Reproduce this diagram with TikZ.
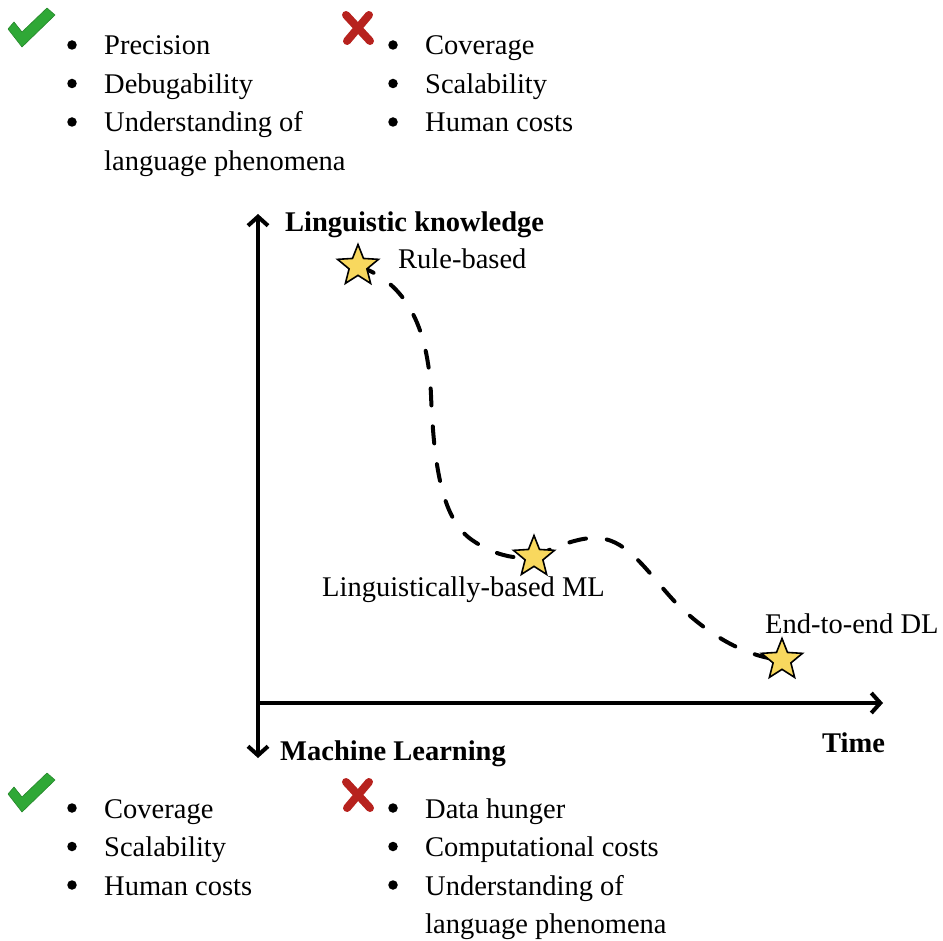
\documentclass[tikz,border=0pt]{standalone}
\usepackage{fontspec}
\setmainfont{Liberation Serif}
\usetikzlibrary{arrows.meta,shapes.geometric}
\definecolor{staryellow}{HTML}{F8D85E}
\definecolor{okgreen}{HTML}{2FA836}
\definecolor{badred}{HTML}{B7221E}
\begin{document}
\begin{tikzpicture}[x=1pt,y=-1pt,
  txt/.style={anchor=base west, inner sep=0pt, font=\fontsize{28.5}{34}\selectfont},
  btxt/.style={anchor=base west, inner sep=0pt, font=\fontsize{28.5}{34}\selectfont\bfseries},
  dot/.style={circle, fill=black, inner sep=0pt, minimum size=9.5pt},
  starnode/.style={star, star points=5, star point ratio=2.3, minimum size=43pt, inner sep=0pt, draw=black, line width=1.6pt, fill=staryellow},
  axisline/.style={line width=4pt, line cap=round},
  barb/.tip={Straight Barb[length=9pt,width=20pt,line width=4pt]},
  trend/.style={line width=4pt, line cap=round, dash pattern=on 17pt off 21pt},
  checkmark/.style={fill=okgreen, draw=okgreen!80!black, line width=0.6pt, line join=round},
  crossmark/.style={draw=badred, line width=8pt, line cap=round}
]
\useasboundingbox (0,0) rectangle (943,941);

% ---- top marks ----
\fill[checkmark] (8,29) -- (14,22) -- (22,32) -- (47,8) -- (55,15) -- (22,47) -- cycle;
\draw[crossmark] (346,15) -- (370,41);
\draw[crossmark] (369,15) -- (347,41);

% ---- top-left list ----
\node[dot] (tlb1) at (72,45) {};
\node[txt] (tl1) at (104,55) {Precision};
\node[dot] (tlb2) at (72,83.5) {};
\node[txt] (tl2) at (104,93.5) {Debugability};
\node[dot] (tlb3) at (72,122) {};
\node[txt] (tl3) at (104,132) {Understanding of};
\node[txt] (tl4) at (104,170.5) {language phenomena};

% ---- top-right list ----
\node[dot] (trb1) at (393,45) {};
\node[txt] (tr1) at (425,55) {Coverage};
\node[dot] (trb2) at (393,83.5) {};
\node[txt] (tr2) at (425,93.5) {Scalability};
\node[dot] (trb3) at (393,122) {};
\node[txt] (tr3) at (425,132) {Human costs};

% ---- axes ----
\coordinate (ytop) at (258,214);
\coordinate (ybot) at (258,758);
\coordinate (orig) at (258,703);
\coordinate (xend) at (883,703);
\draw[axisline, barb-barb] (ybot) -- (ytop);
\draw[axisline, -barb] (orig) -- (xend);

\node[btxt] (lk) at (285,232) {Linguistic knowledge};
\node[btxt] (mlax) at (280,760) {Machine Learning};
\node[btxt] (time) at (822,752) {Time};

% ---- stars & trend ----
\coordinate (rbc) at (358,266);
\coordinate (mlc) at (534,557);
\coordinate (e2ec) at (782,660);
\draw[trend] (rbc) .. controls (405,282) and (428,325) .. (431,395)
  .. controls (434,470) and (443,520) .. (472,540)
  .. controls (492,554) and (514,560) .. (mlc)
  .. controls (565,542) and (588,535) .. (605,539)
  .. controls (632,545) and (652,578) .. (677,604)
  .. controls (712,638) and (748,657) .. (e2ec);
\node[starnode] (rb) at (rbc) {};
\node[starnode] (ml) at (mlc) {};
\node[starnode] (e2e) at (e2ec) {};

\node[txt] (rbl) at (398,269) {Rule-based};
\node[txt] (mll) at (322,596) {Linguistically-based ML};
\node[txt] (e2el) at (765,633) {End-to-end DL};

% ---- bottom marks ----
\fill[checkmark] (8,794) -- (14,787) -- (22,797) -- (47,773) -- (55,780) -- (22,812) -- cycle;
\draw[crossmark] (346,782) -- (370,808);
\draw[crossmark] (369,782) -- (347,808);

% ---- bottom-left list ----
\node[dot] (blb1) at (72,808) {};
\node[txt] (bl1) at (104,818) {Coverage};
\node[dot] (blb2) at (72,846.5) {};
\node[txt] (bl2) at (104,856.5) {Scalability};
\node[dot] (blb3) at (72,885) {};
\node[txt] (bl3) at (104,895) {Human costs};

% ---- bottom-right list ----
\node[dot] (brb1) at (393,808) {};
\node[txt] (br1) at (425,818) {Data hunger};
\node[dot] (brb2) at (393,846.5) {};
\node[txt] (br2) at (425,856.5) {Computational costs};
\node[dot] (brb3) at (393,885) {};
\node[txt] (br3) at (425,895) {Understanding of};
\node[txt] (br4) at (425,933.5) {language phenomena};
\end{tikzpicture}
\end{document}
